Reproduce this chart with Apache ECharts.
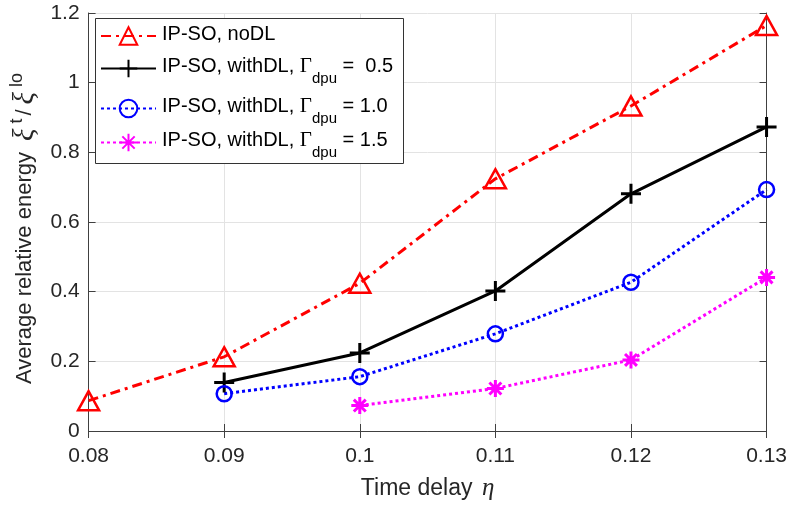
<!DOCTYPE html>
<html>
<head>
<meta charset="utf-8">
<script src="https://cdn.jsdelivr.net/npm/echarts@6/dist/echarts.min.js"></script>
<style>html,body{margin:0;padding:0;background:#fff}#c{width:790px;height:506px}</style>
</head>
<body>
<div id="c"></div>
<script>
// ---- data ----
const xLabels = ['0.08', '0.09', '0.1', '0.11', '0.12', '0.13'];
const noDL  = [0.087, 0.213, 0.424, 0.724, 0.933, 1.164];
const dl05  = [null, 0.139, 0.224, 0.402, 0.681, 0.873];
const dl10  = [null, 0.107, 0.156, 0.279, 0.427, 0.693];
const dl15  = [null, null, 0.073, 0.122, 0.204, 0.441];
const yMin = 0, yMax = 1.2, yStep = 0.2;
const seriesNames = ['noDL', 'dl05', 'dl10', 'dl15'];
const legendTexts = {
  noDL: '{a|IP-SO, noDL}',
  dl05: '{a|IP-SO, withDL, }{g|Γ}{s|dpu}{a| =  0.5}',
  dl10: '{a|IP-SO, withDL, }{g|Γ}{s|dpu}{a| = 1.0}',
  dl15: '{a|IP-SO, withDL, }{g|Γ}{s|dpu}{a| = 1.5}'
};

const SANS = '"Liberation Sans", Arial, Helvetica, sans-serif';
const SERIF = '"Liberation Serif", "DejaVu Serif", serif';
const axisCol = '#404040';
const txtCol = '#262626';
const gridCol = '#e3e3e3';
const tickFont = 21;

const chart = echarts.init(document.getElementById('c'), null, {renderer: 'canvas'});

const plusPath = 'path://M0,10L20,10M10,0L10,20';
const starPath = 'path://M0,10L20,10M10,0L10,20M3,3L17,17M17,3L3,17';

const legendRich = {
  a: {fontFamily: SANS, fontSize: 20, color: '#000', padding: [0, 0, 4, 0]},
  g: {fontFamily: SERIF, fontSize: 21, color: '#000', padding: [0, 0, 4, 0]},
  s: {fontFamily: SANS, fontSize: 15, color: '#000', padding: [20, 0, 0, 0]}
};
const legendTops = [24, 56, 96, 130];
const legends = seriesNames.map((n, i) => ({
  left: 100, top: legendTops[i], orient: 'vertical', padding: 0,
  itemWidth: 55, itemHeight: 22, itemGap: 0, z: 6,
  data: [n],
  formatter: nm => legendTexts[nm],
  textStyle: {color: '#000', fontFamily: SANS, fontSize: 20, padding: [0, 0, 0, 1], rich: legendRich}
}));

const option = {
  animation: false,
  backgroundColor: '#fff',
  grid: {left: 88, right: 22, top: 13, bottom: 74, containLabel: false},
  graphic: [{
    type: 'rect', z: 5, left: 95, top: 18,
    shape: {width: 308, height: 145},
    style: {fill: '#fff', stroke: '#333', lineWidth: 1}
  }],
  legend: legends,
  xAxis: [{
    type: 'category', data: xLabels, boundaryGap: false,
    name: '{a|Time delay }{e|η}', nameLocation: 'middle', nameGap: 45,
    nameTextStyle: {color: txtCol, rich: {
      a: {fontFamily: SANS, fontSize: 23, color: txtCol},
      e: {fontFamily: SERIF, fontStyle: 'italic', fontSize: 25, color: txtCol, padding: [0, 0, 0, 3]}
    }},
    axisLine: {lineStyle: {color: axisCol, width: 1}},
    axisTick: {inside: true, length: 7, lineStyle: {color: axisCol}},
    axisLabel: {color: txtCol, fontFamily: SANS, fontSize: tickFont, margin: 15},
    splitLine: {show: true, lineStyle: {color: gridCol, width: 1}}
  }, {
    type: 'category', data: xLabels, boundaryGap: false, position: 'top',
    axisLine: {lineStyle: {color: axisCol, width: 1}},
    axisTick: {inside: true, length: 7, lineStyle: {color: axisCol}},
    axisLabel: {show: false}, splitLine: {show: false}
  }],
  yAxis: [{
    type: 'value', min: yMin, max: yMax, interval: yStep,
    name: '{a|Average relative energy }{x|ξ}{p|t}{a|/}{x|ξ}{p|lo}',
    nameLocation: 'middle', nameGap: 44, nameRotate: 90,
    nameTextStyle: {color: txtCol, padding: [0, 10, 0, 0], rich: {
      a: {fontFamily: SANS, fontSize: 22, color: txtCol},
      x: {fontFamily: SERIF, fontStyle: 'italic', fontSize: 29, color: txtCol, padding: [0, 4, 0, 5]},
      p: {fontFamily: SANS, fontSize: 18, color: txtCol, padding: [0, 3, 16, 1]}
    }},
    axisLine: {show: true, lineStyle: {color: axisCol, width: 1}},
    axisTick: {show: true, inside: true, length: 7, lineStyle: {color: axisCol}},
    axisLabel: {color: txtCol, fontFamily: SANS, fontSize: tickFont, margin: 9},
    splitLine: {show: true, lineStyle: {color: gridCol, width: 1}}
  }, {
    type: 'value', min: yMin, max: yMax, interval: yStep, position: 'right',
    axisLine: {show: true, lineStyle: {color: axisCol, width: 1}},
    axisTick: {show: true, inside: true, length: 7, lineStyle: {color: axisCol}},
    axisLabel: {show: false}, splitLine: {show: false}
  }],
  series: [
    {
      name: 'noDL', type: 'line', data: noDL,
      symbol: 'triangle', symbolSize: [21, 19],
      lineStyle: {color: '#ff0000', width: 3, type: [10, 5, 3, 5]},
      itemStyle: {color: 'rgba(0,0,0,0)', borderColor: '#ff0000', borderWidth: 2.5}
    },
    {
      name: 'dl05', type: 'line', data: dl05,
      symbol: plusPath, symbolSize: 20,
      lineStyle: {color: '#000000', width: 3, type: 'solid'},
      itemStyle: {color: 'rgba(0,0,0,0)', borderColor: '#000000', borderWidth: 3}
    },
    {
      name: 'dl10', type: 'line', data: dl10,
      symbol: 'circle', symbolSize: 15,
      lineStyle: {color: '#0000ff', width: 3, type: [3, 3]},
      itemStyle: {color: 'rgba(0,0,0,0)', borderColor: '#0000ff', borderWidth: 2.5}
    },
    {
      name: 'dl15', type: 'line', data: dl15,
      symbol: starPath, symbolSize: 17,
      lineStyle: {color: '#ff00ff', width: 3, type: [3, 3]},
      itemStyle: {color: 'rgba(0,0,0,0)', borderColor: '#ff00ff', borderWidth: 3}
    }
  ]
};
chart.setOption(option);
</script>
</body>
</html>
